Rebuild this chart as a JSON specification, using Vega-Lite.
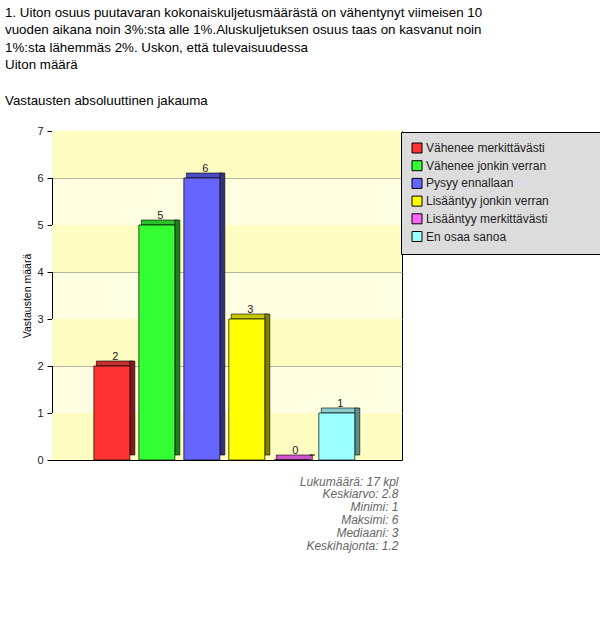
{
  "$schema": "https://vega.github.io/schema/vega-lite/v6.json",
  "autosize": {"type": "none"},
  "padding": {"left": 52, "top": 131, "right": 198, "bottom": 172},
  "width": 350,
  "height": 329,
  "background": "white",
  "title": {
    "text": [
      "1. Uiton osuus puutavaran kokonaiskuljetusmäärästä on vähentynyt viimeisen 10",
      "vuoden aikana noin 3%:sta alle 1%.Aluskuljetuksen osuus taas on kasvanut noin",
      "1%:sta lähemmäs 2%. Uskon, että tulevaisuudessa",
      "Uiton määrä"
    ],
    "subtitle": "Vastausten absoluuttinen jakauma",
    "anchor": "start",
    "frame": "group",
    "dx": -47,
    "offset": 18,
    "font": "Liberation Sans",
    "fontSize": 13.33,
    "fontWeight": "normal",
    "lineHeight": 17.5,
    "color": "black",
    "subtitleFont": "Liberation Sans",
    "subtitleFontSize": 13.33,
    "subtitleColor": "black",
    "subtitlePadding": 22
  },
  "datasets": {
    "vastaukset": [
      {"vastaus": "Vähenee merkittävästi", "maara": 2},
      {"vastaus": "Vähenee jonkin verran", "maara": 5},
      {"vastaus": "Pysyy ennallaan", "maara": 6},
      {"vastaus": "Lisääntyy jonkin verran", "maara": 3},
      {"vastaus": "Lisääntyy merkittävästi", "maara": 0},
      {"vastaus": "En osaa sanoa", "maara": 1}
    ],
    "kaistat": [
      {"ala": 0, "yla": 1},
      {"ala": 2, "yla": 3},
      {"ala": 4, "yla": 5},
      {"ala": 6, "yla": 7}
    ]
  },
  "layer": [
    {
      "data": {"name": "kaistat"},
      "mark": {"type": "rect", "fill": "#fffdc2"},
      "encoding": {
        "y": {"field": "ala", "type": "quantitative", "scale": {"domain": [0, 7], "nice": false}, "axis": {"title": "Vastausten määrä", "values": [0, 1, 2, 3, 4, 5, 6, 7]}},
        "y2": {"field": "yla"}
      }
    },
    {
      "data": {"name": "vastaukset"},
      "mark": {"type": "bar", "xOffset": 2.5, "yOffset": -5, "stroke": "black", "strokeWidth": 0.6},
      "encoding": {
        "x": {"field": "vastaus", "type": "nominal", "sort": null, "scale": {"paddingInner": 0.2, "paddingOuter": 0.99, "align": 0.47}},
        "y": {"field": "maara", "type": "quantitative", "axis": {"title": "Vastausten määrä", "values": [0, 1, 2, 3, 4, 5, 6, 7]}},
        "y2": {"field": "maara"},
        "color": {
          "field": "vastaus", "type": "nominal", "sort": null,
          "scale": {"range": ["#c83030", "#2cc02c", "#4c4cc0", "#c8c800", "#cc55cc", "#88cccc"]},
          "legend": null
        }
      }
    },
    {
      "data": {"name": "vastaukset"},
      "mark": {"type": "bar", "width": 5, "xOffset": 20.5, "yOffset": -5, "y2Offset": -3, "stroke": "black", "strokeWidth": 0.6},
      "encoding": {
        "x": {"field": "vastaus", "type": "nominal", "sort": null},
        "y": {"field": "maara", "type": "quantitative", "axis": {"title": "Vastausten määrä", "values": [0, 1, 2, 3, 4, 5, 6, 7]}},
        "color": {
          "field": "vastaus", "type": "nominal", "sort": null,
          "scale": {"range": ["#801c1c", "#1c801c", "#333377", "#808000", "#803380", "#5a8f8f"]},
          "legend": null
        }
      }
    },
    {
      "data": {"name": "vastaukset"},
      "mark": {"type": "bar", "stroke": "black", "strokeWidth": 0.7, "opacity": 1},
      "encoding": {
        "x": {
          "field": "vastaus", "type": "nominal", "sort": null,
          "axis": {
            "title": ["Lukumäärä: 17 kpl", "Keskiarvo: 2.8", "Minimi: 1", "Maksimi: 6", "Mediaani: 3", "Keskihajonta: 1.2"],
            "labels": false, "ticks": false, "grid": false,
            "titleX": 346, "titleAlign": "right", "titleBaseline": "top",
            "titlePadding": 16, "titleFontStyle": "italic", "titleFontWeight": "normal",
            "titleFontSize": 12, "titleColor": "#666666", "titleLineHeight": 12.8
          }
        },
        "y": {"field": "maara", "type": "quantitative", "axis": {"title": "Vastausten määrä", "values": [0, 1, 2, 3, 4, 5, 6, 7]}},
        "color": {
          "field": "vastaus", "type": "nominal", "sort": null,
          "scale": {"range": ["#ff3333", "#33ff33", "#6666ff", "#ffff00", "#ff66ff", "#99ffff"]},
          "legend": {
            "title": null,
            "orient": "none", "legendX": 349, "legendY": 1,
            "fillColor": "#dcdcdc", "strokeColor": "black", "padding": 10,
            "symbolType": "square", "symbolSize": 100, "symbolStrokeColor": "black", "symbolStrokeWidth": 1,
            "labelFont": "Liberation Sans", "labelFontSize": 12, "labelColor": "#222222",
            "rowPadding": 3.7, "labelOffset": 3, "labelLimit": 300,
            "labelExpr": "datum.label + '\u2800\u2800\u2800\u2800\u2800\u2800'"
          }
        }
      }
    },
    {
      "data": {"name": "vastaukset"},
      "mark": {"type": "text", "baseline": "bottom", "dy": -4, "dx": 3.5, "font": "Liberation Sans", "fontSize": 11, "color": "#222222"},
      "encoding": {
        "x": {"field": "vastaus", "type": "nominal", "sort": null},
        "y": {"field": "maara", "type": "quantitative", "axis": {"title": "Vastausten määrä", "values": [0, 1, 2, 3, 4, 5, 6, 7]}},
        "text": {"field": "maara", "type": "quantitative"}
      }
    }
  ],
  "resolve": {"scale": {"color": "independent"}},
  "config": {
    "view": {"fill": "#ffffe2", "stroke": "black", "strokeWidth": 1},
    "font": "Liberation Sans",
    "axis": {
      "domainColor": "black",
      "tickColor": "black",
      "labelColor": "#222222",
      "labelFont": "Liberation Sans",
      "labelFontSize": 11,
      "titleFont": "Liberation Sans",
      "titleFontSize": 10.5,
      "titleFontWeight": "normal",
      "titleColor": "black",
      "gridColor": "#b4b4a0",
      "gridOpacity": 1
    },
    "axisY": {"titlePadding": 4, "labelPadding": 4, "tickSize": 5}
  }
}
